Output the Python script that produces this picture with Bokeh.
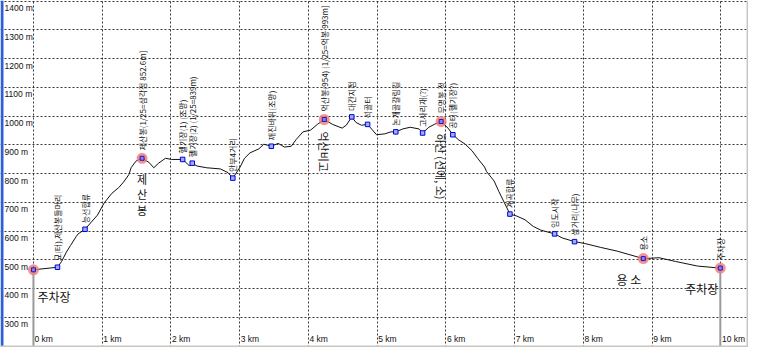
import math
from bokeh.plotting import figure
from bokeh.models import FixedTicker, BoxAnnotation
from bokeh.core.properties import value
from bokeh.embed import file_html
from bokeh.resources import INLINE

# ---- data -------------------------------------------------------------
km_ticks = [0, 1, 2, 3, 4, 5, 6, 7, 8, 9, 10]
km_labels = ["0 km", "1 km", "2 km", "3 km", "4 km", "5 km",
             "6 km", "7 km", "8 km", "9 km", "10 km"]
elev_ticks = [300, 400, 500, 600, 700, 800, 900, 1000, 1100, 1200, 1300, 1400]
elev_labels = ["300 m", "400 m", "500 m", "600 m", "700 m", "800 m", "900 m",
               "1000 m", "1100 m", "1200 m", "1300 m", "1400 m"]

# elevation profile (distance km, elevation m)
prof_km = [0.00, 0.35, 0.41, 0.48, 0.54, 0.62, 0.65, 0.75, 0.93, 1.03, 1.14,
           1.24, 1.31, 1.39, 1.42, 1.49, 1.58, 1.68, 1.75, 1.82, 1.92, 2.01,
           2.17, 2.23, 2.27, 2.31, 2.38, 2.52, 2.72, 2.83, 2.90, 3.00, 3.07,
           3.15, 3.28, 3.35, 3.46, 3.56, 3.65, 3.75, 3.82, 3.92, 4.03, 4.13,
           4.23, 4.35, 4.49, 4.55, 4.63, 4.69, 4.77, 4.86, 4.99, 5.11, 5.20,
           5.27, 5.37, 5.48, 5.61, 5.66, 5.75, 5.83, 5.93, 6.03, 6.10, 6.18,
           6.28, 6.38, 6.46, 6.56, 6.59, 6.70, 6.77, 6.85, 6.93, 7.03, 7.15,
           7.27, 7.38, 7.58, 7.69, 7.87, 8.01, 8.25, 8.49, 8.87, 9.10, 9.34,
           9.66, 9.99]
prof_elev = [465, 474, 494, 527, 550, 580, 590, 606, 655, 698, 731,
             751, 770, 797, 820, 843, 853, 839, 820, 836, 853, 849,
             849, 836, 826, 836, 826, 820, 816, 803, 784, 820, 853,
             872, 886, 902, 895, 905, 892, 895, 918, 945, 951, 971,
             988, 971, 958, 968, 997, 978, 968, 971, 935, 938, 945,
             945, 955, 961, 955, 941, 961, 971, 981, 958, 935, 918,
             902, 879, 853, 823, 807, 774, 737, 698, 659, 652, 639,
             616, 603, 590, 576, 563, 557, 543, 530, 504, 507, 494,
             478, 471]

# major waypoints (red)
major_km = [0.00, 1.58, 4.23, 5.93, 8.87, 9.99]
major_elev = [465, 853, 988, 981, 504, 471]
major_top = ["", "제산봉(1/25=삼각점 852.6m]", "억산봉(954) (1/25=억봉 993m]",
             "무명봉,정", "용소", "주차장"]

# minor waypoints (blue)
minor_km = [0.35, 0.75, 2.17, 2.31, 2.90, 3.46, 4.63, 4.86, 5.27, 5.66,
            6.10, 6.93, 7.58, 7.87]
minor_elev = [474, 606, 849, 836, 784, 895, 997, 971, 945, 941,
              935, 659, 590, 563]
minor_top = ["묘(터),제산봉들머리", "능선합류", "헬기장(1) (조망)",
             "헬기장(2) (1/25=839m)", "안부4거리", "깨진바위(조망)", "대간지점",
             "석골터", "논개골갈림길", "고사리재(?)", "공터(헬기장?)", "계곡합류",
             "임도시작", "삼거리(나무)"]

# big names below points
big_h_km = [0.00]
big_h_elev = [465]
big_h_text = ["주차장"]
big_r_km = [8.87, 9.99]
big_r_elev = [504, 471]
big_r_text = ["용 소", "주차장"]
big_v_km = [1.58]
big_v_elev = [853]
big_v_text = ["제\n산\n봉"]
big_rot_km = [4.23, 5.93]
big_rot_elev = [988, 981]
big_rot_text = ["억산비고", "하산 (선에, 소)"]

# ---- figure ------------------------------------------------------------
x0, x1 = -0.479, 10.40
y0, y1 = 194.7, 1402.0
p = figure(width=748, height=347, x_range=(x0, x1), y_range=(y0, y1),
           output_backend="svg", toolbar_location=None,
           min_border=0, min_border_left=0, min_border_right=0,
           min_border_top=0, min_border_bottom=0)
p.axis.visible = False
p.outline_line_color = None
p.background_fill_color = "white"
p.border_fill_color = "white"
p.xgrid.ticker = FixedTicker(ticks=km_ticks)
p.ygrid.ticker = FixedTicker(ticks=elev_ticks)
for g in (p.xgrid, p.ygrid):
    g.grid_line_color = "#222222"
    g.grid_line_dash = "2 2"
    g.grid_line_width = 1
    g.grid_line_alpha = 0.9

# window-like borders
p.add_layout(BoxAnnotation(left=0, right=3, left_units="screen", right_units="screen",
                           fill_color="#2f5fd8", fill_alpha=1, line_color=None))
p.add_layout(BoxAnnotation(left=746, right=748, left_units="screen", right_units="screen",
                           fill_color="#c8c8c0", fill_alpha=1, line_color=None))
p.add_layout(BoxAnnotation(bottom=0, top=2, bottom_units="screen", top_units="screen",
                           fill_color="#c8c8c0", fill_alpha=1, line_color=None))

# tick labels (drawn inside plot)
font_ax = value("Liberation Sans")
p.text(x=[x0] * len(elev_ticks), y=elev_ticks, text=elev_labels,
       x_offset=4, y_offset=2, text_align="left", text_baseline="top",
       text_font=font_ax, text_font_size="8.5px", text_color="#111111")
p.text(x=km_ticks, y=[y0] * len(km_ticks), text=km_labels,
       x_offset=1, y_offset=-4, text_align="left", text_baseline="bottom",
       text_font=font_ax, text_font_size="8.5px", text_color="#111111")

# start / end vertical gray lines
p.segment(x0=[prof_km[0], prof_km[-1]], y0=[prof_elev[0], prof_elev[-1]],
          x1=[prof_km[0], prof_km[-1]], y1=[y0, y0],
          line_color="#9a9a9a", line_width=2)

# profile
p.line(prof_km, prof_elev, line_color="#111111", line_width=1)

# markers
p.scatter(major_km, major_elev, size=11, fill_color="#f07878", fill_alpha=0.8,
          line_color=None)
p.scatter(major_km, major_elev, marker="square", size=4, fill_color="#8a7cff",
          line_color="#2a1aa0", line_width=1)
p.scatter(minor_km, minor_elev, marker="square", size=4.5, fill_color="#9ab0ff",
          line_color="#0000d0", line_width=1)

# small rotated labels above points
kfont = value("Noto Sans CJK KR")
p.text(x=major_km, y=major_elev, text=major_top, angle=math.pi / 2,
       y_offset=-8, text_align="left", text_baseline="middle",
       text_font=kfont, text_font_size="8px", text_color="#111111")
p.text(x=minor_km, y=minor_elev, text=minor_top, angle=math.pi / 2,
       y_offset=-6, text_align="left", text_baseline="middle",
       text_font=kfont, text_font_size="8px", text_color="#111111")

# big labels below points
p.text(x=big_h_km, y=big_h_elev, text=big_h_text, x_offset=4, y_offset=18,
       text_align="left", text_baseline="top",
       text_font=kfont, text_font_size="12px", text_color="#111111")
p.text(x=big_r_km, y=big_r_elev, text=big_r_text, x_offset=-2, y_offset=12,
       text_align="right", text_baseline="top",
       text_font=kfont, text_font_size="12px", text_color="#111111")
p.text(x=big_v_km, y=big_v_elev, text=big_v_text, y_offset=13,
       text_align="center", text_baseline="top", text_line_height=0.95,
       text_font=kfont, text_font_size="11px", text_color="#111111")
p.text(x=big_rot_km, y=big_rot_elev, text=big_rot_text, angle=-math.pi / 2,
       y_offset=12, text_align="left", text_baseline="middle",
       text_font=kfont, text_font_size="11px", text_color="#111111")

open("out.html", "w").write(file_html(p, INLINE))
